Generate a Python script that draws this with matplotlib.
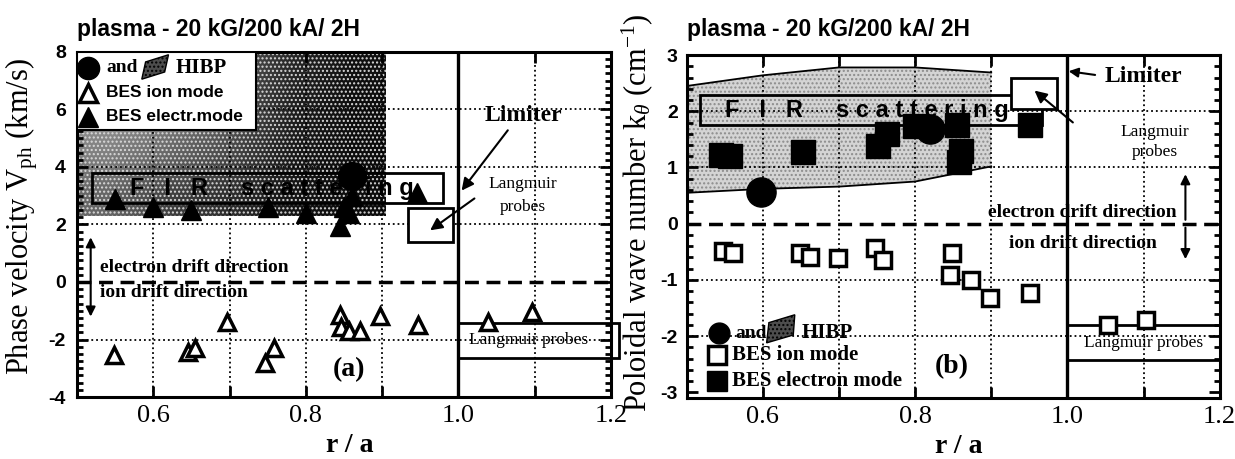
import numpy as np
import matplotlib.pyplot as plt
from matplotlib.patches import Rectangle, Polygon
from matplotlib.ticker import MultipleLocator

serif = 'Liberation Serif'
sans = 'Liberation Sans'
plt.rcParams['mathtext.fontset'] = 'custom'
plt.rcParams['mathtext.rm'] = serif
plt.rcParams['mathtext.it'] = serif + ':italic'
plt.rcParams['mathtext.bf'] = serif + ':bold'

title = 'plasma - 20 kG/200 kA/ 2H'
x_ticks = [0.5, 0.6, 0.7, 0.8, 0.9, 1.0, 1.1, 1.2]
x_labels = ['', '0.6', '', '0.8', '', '1.0', '', '1.2']

# (a) phase velocity, km/s
ion_r_a = [0.548, 0.645, 0.655, 0.697, 0.747, 0.758, 0.845, 0.846, 0.856, 0.871, 0.897, 0.947, 1.039, 1.097]
ion_v_a = [-2.55, -2.45, -2.3, -1.4, -2.8, -2.3, -1.15, -1.55, -1.72, -1.72, -1.2, -1.5, -1.4, -1.05]
el_r_a = [0.55, 0.60, 0.65, 0.75, 0.80, 0.845, 0.85, 0.856, 0.86, 0.946]
el_v_a = [2.9, 2.6, 2.5, 2.6, 2.4, 1.95, 2.6, 2.4, 3.0, 3.1]
hibp_r_a = [0.86]
hibp_v_a = [3.7]
yticks_a = [-4, -2, 0, 2, 4, 6, 8]
# FIR scattering range (grey levels, left->right, top->bottom)
fir_shade_a = [[0.50, 0.45, 0.35, 0.15, 0.06],
               [0.58, 0.50, 0.35, 0.12, 0.05],
               [0.50, 0.40, 0.28, 0.10, 0.05],
               [0.40, 0.25, 0.18, 0.08, 0.05]]

# (b) poloidal wave number, 1/cm
ion_r_b = [0.548, 0.561, 0.649, 0.662, 0.699, 0.747, 0.758, 0.848, 0.846, 0.874, 0.899, 0.951, 1.053, 1.103]
ion_k_b = [-0.49, -0.52, -0.52, -0.6, -0.61, -0.43, -0.64, -0.52, -0.91, -1.0, -1.33, -1.23, -1.8, -1.71]
el_r_b = [0.545, 0.557, 0.653, 0.751, 0.763, 0.80, 0.855, 0.86, 0.858, 0.951]
el_k_b = [1.22, 1.2, 1.27, 1.38, 1.59, 1.73, 1.75, 1.3, 1.1, 1.75]
hibp_r_b = [0.597, 0.82]
hibp_k_b = [0.57, 1.68]
yticks_b = [-3, -2, -1, 0, 1, 2, 3]
# FIR scattering band
fir_r_b = [0.5, 0.6, 0.7, 0.8, 0.9]
fir_hi_b = [2.45, 2.64, 2.78, 2.78, 2.69]
fir_lo_b = [0.55, 0.62, 0.66, 0.75, 1.02]

fig = plt.figure(figsize=(12.35, 4.59), dpi=100)
axa = fig.add_axes([0.0623, 0.135, 0.4324, 0.752])
axb = fig.add_axes([0.556, 0.133, 0.4316, 0.747])


def frame(ax, ylim, yticks, minor, pad):
    ax.set_xlim(0.5, 1.2)
    ax.set_ylim(*ylim)
    ax.set_xticks(x_ticks)
    ax.set_xticklabels(x_labels, family=serif, fontsize=19)
    ax.set_yticks(yticks)
    ax.set_yticklabels([str(t) for t in yticks], family=sans, fontsize=14, fontweight='bold')
    ax.yaxis.set_minor_locator(MultipleLocator(minor))
    ax.tick_params(which='both', direction='in', top=True, right=True, width=2)
    ax.tick_params(which='major', length=8)
    ax.tick_params(which='minor', length=4)
    ax.tick_params(axis='x', pad=6)
    ax.tick_params(axis='y', pad=pad)
    for s in ax.spines.values():
        s.set_linewidth(2.2)
    for x in [0.6, 0.7, 0.8, 0.9, 1.1]:
        ax.axvline(x, color='k', ls=':', lw=1.3, zorder=1)
    for y in yticks[1:-1]:
        if y != 0:
            ax.axhline(y, color='k', ls=':', lw=1.3, zorder=1)
    ax.axhline(0, color='k', lw=2.5, dashes=(4, 2.2), zorder=2)
    ax.axvline(1.0, color='k', lw=2.4, zorder=3)
    ax.set_xlabel('r / a', family=serif, fontsize=20, fontweight='bold')
    ax.xaxis.set_label_coords(0.51, -0.105)
    fig.text(ax.get_position().x0, 0.935, title, family=sans, fontsize=16.5,
             fontweight='bold', ha='left', va='center')


def hibp_icon(ax, pts):
    ax.add_patch(Polygon(pts, closed=True, facecolor='0.3', edgecolor='k',
                         hatch='....', lw=1, zorder=6))


# ---------------- (a) ----------------
frame(axa, (-4, 8), yticks_a, 0.25, 8)
axa.imshow(fir_shade_a, cmap='gray', vmin=0, vmax=1, interpolation='bilinear',
           extent=[0.5, 0.905, 2.3, 8], aspect='auto', zorder=0.5)
axa.add_patch(Rectangle((0.5, 2.3), 0.405, 5.7, facecolor='none', edgecolor='0.85',
                        hatch='....', lw=0, zorder=0.6))
axa.add_patch(Rectangle((0.52, 2.74), 0.46, 1.04, facecolor='none', edgecolor='k', lw=2, zorder=4))
axa.text(0.57, 3.25, 'F   I   R     s c a t t e r i n g', family=sans, fontsize=17,
         fontweight='bold', va='center', zorder=4)

axa.plot(ion_r_a, ion_v_a, '^', ms=12, mfc='white', mec='k', mew=2.5, zorder=5, clip_on=False)
axa.plot(el_r_a, el_v_a, '^', ms=14, color='k', zorder=5)
axa.plot(hibp_r_a, hibp_v_a, 'o', ms=20, color='k', zorder=5)

# legend box
axa.add_patch(Rectangle((0.5, 5.29), 0.235, 2.71, facecolor='white', edgecolor='k', lw=1.5, zorder=5))
axa.plot([0.514], [7.44], 'o', ms=16, color='k', zorder=6, clip_on=False)
axa.text(0.538, 7.44, 'and', family=serif, fontsize=14, fontweight='bold', va='center', zorder=6)
hibp_icon(axa, [(0.585, 7.05), (0.615, 7.3), (0.62, 7.9), (0.59, 7.65)])
axa.text(0.629, 7.44, 'HIBP', family=serif, fontsize=15, fontweight='bold', va='center', zorder=6)
axa.plot([0.514], [6.57], '^', ms=13, mfc='white', mec='k', mew=2.5, zorder=6, clip_on=False)
axa.text(0.538, 6.57, 'BES ion mode', family=sans, fontsize=12.5, fontweight='bold', va='center', zorder=6)
axa.plot([0.514], [5.74], '^', ms=14, color='k', zorder=6, clip_on=False)
axa.text(0.538, 5.74, 'BES electr.mode', family=sans, fontsize=12.5, fontweight='bold', va='center', zorder=6)

# drift directions
axa.annotate('', xy=(0.518, 1.65), xytext=(0.518, -1.3),
             arrowprops=dict(arrowstyle='<|-|>', color='k', lw=1.5, mutation_scale=14))
axa.text(0.53, 0.52, 'electron drift direction', family=serif, fontsize=14, fontweight='bold', va='center')
axa.text(0.53, -0.38, 'ion drift direction', family=serif, fontsize=14, fontweight='bold', va='center')

# limiter / probes
axa.text(1.085, 5.8, 'Limiter', family=serif, fontsize=17, fontweight='bold', ha='center', va='center')
axa.annotate('', xy=(1.002, 3.1), xytext=(1.067, 5.35),
             arrowprops=dict(arrowstyle='-|>', color='k', lw=1.5, mutation_scale=18))
axa.add_patch(Rectangle((0.934, 1.39), 0.059, 1.18, facecolor='white', edgecolor='k', lw=2, zorder=4))
axa.text(1.085, 3.4, 'Langmuir', family=serif, fontsize=12.5, ha='center', va='center')
axa.text(1.085, 2.6, 'probes', family=serif, fontsize=12.5, ha='center', va='center')
axa.annotate('', xy=(0.96, 1.74), xytext=(1.024, 2.96),
             arrowprops=dict(arrowstyle='-|>', color='k', lw=1.5, mutation_scale=18), zorder=5)
axa.add_patch(Rectangle((1.0, -2.64), 0.21, 1.21, facecolor='none', edgecolor='k', lw=2,
                        zorder=4, clip_on=False))
axa.text(1.092, -2.0, 'Langmuir probes', family=serif, fontsize=12.5, ha='center', va='center')
axa.text(0.856, -3.06, '(a)', family=serif, fontsize=20, fontweight='bold', ha='center', va='center')

axa.set_ylabel(r'Phase velocity V$_{\mathrm{ph}}$ (km/s)', family=serif, fontsize=22)
axa.yaxis.set_label_coords(-0.07, 0.524)

# ---------------- (b) ----------------
frame(axb, (-3.1, 3.0), yticks_b, 0.2, 6.5)
axb.fill_between(fir_r_b, fir_lo_b, fir_hi_b, facecolor='0.83', edgecolor='0.55', hatch='....',
                 lw=0, zorder=0.5)
axb.plot(fir_r_b, fir_hi_b, color='k', lw=1.3, zorder=2)
axb.plot(fir_r_b, fir_lo_b, color='k', lw=1.3, zorder=2)
axb.add_patch(Rectangle((0.518, 1.75), 0.448, 0.54, facecolor='none', edgecolor='k', lw=2, zorder=4))
axb.text(0.55, 2.02, 'F   I   R     s c a t t e r i n g', family=sans, fontsize=17,
         fontweight='bold', va='center', zorder=4)

axb.plot(ion_r_b, ion_k_b, 's', ms=11, mfc='white', mec='k', mew=2.5, zorder=5, clip_on=False)
axb.plot(el_r_b, el_k_b, 's', ms=17, color='k', zorder=5)
axb.plot(hibp_r_b, hibp_k_b, 'o', ms=21, color='k', zorder=5)

# legend (no frame)
axb.plot([0.542], [-1.95], 'o', ms=15, color='k', zorder=6)
axb.text(0.564, -1.95, 'and', family=serif, fontsize=14, fontweight='bold', va='center', zorder=6)
hibp_icon(axb, [(0.605, -2.12), (0.64, -1.98), (0.642, -1.62), (0.608, -1.76)])
axb.text(0.651, -1.95, 'HIBP', family=serif, fontsize=15, fontweight='bold', va='center', zorder=6)
axb.plot([0.54], [-2.34], 's', ms=13, mfc='white', mec='k', mew=2.5, zorder=6)
axb.text(0.56, -2.34, 'BES ion mode', family=serif, fontsize=15, fontweight='bold', va='center', zorder=6)
axb.plot([0.54], [-2.79], 's', ms=15, color='k', zorder=6)
axb.text(0.56, -2.79, 'BES electron mode', family=serif, fontsize=15, fontweight='bold', va='center', zorder=6)

# drift directions
axb.text(1.02, 0.2, 'electron drift direction', family=serif, fontsize=14, fontweight='bold',
         ha='center', va='center')
axb.text(1.02, -0.35, 'ion drift direction', family=serif, fontsize=14, fontweight='bold',
         ha='center', va='center')
axb.annotate('', xy=(1.155, 0.93), xytext=(1.155, 0.02),
             arrowprops=dict(arrowstyle='-|>', color='k', lw=1.5, mutation_scale=14))
axb.annotate('', xy=(1.155, -0.68), xytext=(1.155, -0.02),
             arrowprops=dict(arrowstyle='-|>', color='k', lw=1.5, mutation_scale=14))

# limiter / probes
axb.text(1.1, 2.62, 'Limiter', family=serif, fontsize=17, fontweight='bold', ha='center', va='center')
axb.annotate('', xy=(0.998, 2.72), xytext=(1.04, 2.64),
             arrowprops=dict(arrowstyle='-|>', color='k', lw=1.5, mutation_scale=14))
axb.add_patch(Rectangle((0.926, 2.04), 0.061, 0.55, facecolor='white', edgecolor='k', lw=2, zorder=4))
axb.text(1.115, 1.64, 'Langmuir', family=serif, fontsize=12.5, ha='center', va='center')
axb.text(1.115, 1.27, 'probes', family=serif, fontsize=12.5, ha='center', va='center')
axb.annotate('', xy=(0.954, 2.4), xytext=(1.01, 1.77),
             arrowprops=dict(arrowstyle='-|>', color='k', lw=1.5, mutation_scale=18), zorder=5)
axb.add_patch(Rectangle((1.0, -2.43), 0.2, 0.63, facecolor='none', edgecolor='k', lw=2,
                        zorder=4, clip_on=False))
axb.text(1.1, -2.13, 'Langmuir probes', family=serif, fontsize=12.5, ha='center', va='center')
axb.text(0.848, -2.55, '(b)', family=serif, fontsize=20, fontweight='bold', ha='center', va='center')

axb.set_ylabel(r'Poloidal wave number k$_{\theta}$ (cm$^{\mathrm{-1}}$)', family=serif, fontsize=22)
axb.yaxis.set_label_coords(-0.06, 0.54)

fig.savefig('out.png', dpi=100)
